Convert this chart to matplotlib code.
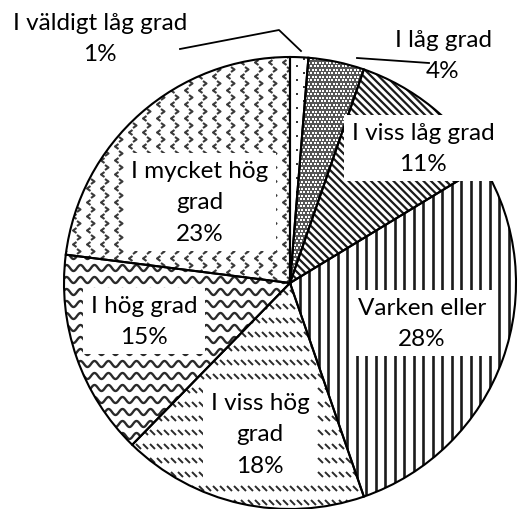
import numpy as np
import matplotlib.pyplot as plt
from matplotlib.patches import Wedge
from matplotlib.collections import LineCollection

# survey answers, share of respondents in percent (clockwise from the top)
labels = ["I väldigt låg grad", "I låg grad", "I viss låg grad", "Varken eller",
          "I viss hög\ngrad", "I hög grad", "I mycket hög\ngrad"]
shares = [1.3, 4.0, 11.0, 28.4, 17.6, 14.7, 23.0]

# label centres in pixels (layout only)
label_pos = [(100, 39), (443, 56), (423, 149), (422, 324),
             (260, 435), (144, 322), (200, 203)]
boxed = [False, False, True, True, True, True, True]

plt.rcParams['font.family'] = ['Lato', 'DejaVu Sans']

W, H = 518, 510
fig = plt.figure(figsize=(W / 100, H / 100), dpi=100)
ax = fig.add_axes([0, 0, 1, 1])

cx, cy, R = 290, 284, 226

# y axis runs downwards, so counterclock in data = clockwise on screen
wedges, _ = ax.pie(shares, startangle=-90, counterclock=True, center=(cx, cy),
                   radius=R, wedgeprops=dict(facecolor='white', edgecolor='none'),
                   frame=True)
ax.set_xlim(0, W)
ax.set_ylim(H, 0)
ax.set_aspect('equal')
ax.axis('off')

x0, x1, y0, y1 = cx - R - 5, cx + R + 5, cy - R - 5, cy + R + 5
ink = '#1a1a1a'


def add_lines(segs, wedge, lw=1.1, color=ink):
    lc = LineCollection(segs, colors=color, linewidths=lw, zorder=2)
    ax.add_collection(lc)
    lc.set_clip_path(wedge)


# 1%: sparse dots
pts = [(x, y) for y in np.arange(y0, y1, 14) for x in np.arange(x0, x1, 14)]
pts += [(x + 7, y + 7) for x, y in pts]
pts = np.array(pts)
sc = ax.scatter(pts[:, 0], pts[:, 1], s=3, marker='s', color='#333', lw=0, zorder=2)
sc.set_clip_path(wedges[0])

# 4%: dark fine check
wedges[1].set_facecolor('#555555')
pts = np.array([(x + (1.75 if int(round((y - y0) / 3.5)) % 2 else 0), y)
                for y in np.arange(y0, y1, 3.5) for x in np.arange(x0, x1, 3.5)])
sc = ax.scatter(pts[:, 0], pts[:, 1], s=1.5, marker='s', color='white', lw=0, zorder=2)
sc.set_clip_path(wedges[1])

# 11%: downward diagonal stripes
segs = [[(x0 + c, y0), (x0 + c + (y1 - y0), y1)] for c in np.arange(-(y1 - y0), x1 - x0, 7.5)]
add_lines(segs, wedges[2], lw=1.6)

# 28%: vertical lines
segs = [[(x, y0), (x, y1)] for x in np.arange(x0 + 3, x1, 9.5)]
add_lines(segs, wedges[3], lw=1.9)

# 18%: dashed downward diagonal rows
segs = [[(x, y), (x + 5, y + 5)] for y in np.arange(y0, y1, 14) for x in np.arange(x0, x1, 7)]
add_lines(segs, wedges[4], lw=1.4, color='#2a2a2a')

# 15%: waves
xs = np.arange(x0, x1, 0.5)
segs = [np.column_stack([xs, y + 3 * np.sin(2 * np.pi * xs / 14)]) for y in np.arange(y0, y1, 12)]
add_lines(segs, wedges[5], lw=1.7, color='#2a2a2a')

# 23%: divots
segs = []
for y in np.arange(y0, y1, 14):
    for x in np.arange(x0, x1, 14):
        segs.append([(x + 4, y + 1), (x + 7.5, y + 3.5), (x + 4, y + 6)])
        segs.append([(x + 3.5, y + 8), (x + 0, y + 10.5), (x + 3.5, y + 13)])
add_lines(segs, wedges[6], lw=1.5, color='#3a3a3a')

# outlines on top of the patterns
for w in wedges:
    ax.add_patch(Wedge(w.center, w.r, w.theta1, w.theta2, fill=False,
                       edgecolor='black', lw=1.5, zorder=3))

# leader lines for the two small slices
ax.plot([180, 279, 301], [50, 31, 52], color='black', lw=1.3, zorder=3)
ax.plot([357, 429], [59, 64], color='black', lw=1.3, zorder=3)

for lab, val, (tx, ty), b in zip(labels, shares, label_pos, boxed):
    txt = f"{lab}\n{val:.0f}%"
    kw = dict(boxstyle='square,pad=0.3', fc='white', ec='none') if b else None
    ax.text(tx, ty, txt, ha='center', va='center', multialignment='center',
            fontsize=17.5, linespacing=1.6, color='black', bbox=kw, zorder=4)

fig.savefig('out.png', dpi=100, facecolor='white')
